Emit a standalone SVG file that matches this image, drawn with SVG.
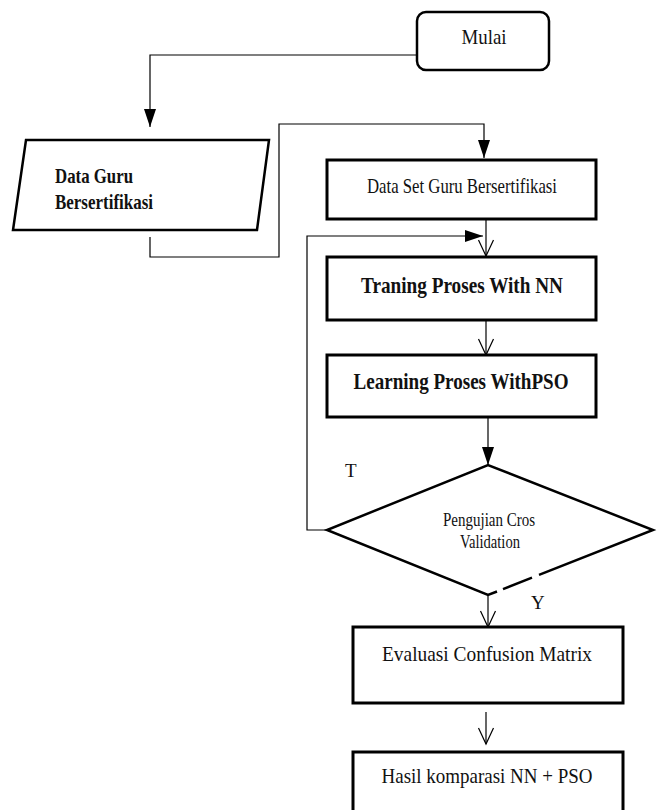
<svg xmlns="http://www.w3.org/2000/svg" width="657" height="810" viewBox="0 0 657 810">
<style>
.box{fill:#fff;stroke:#000;stroke-width:3}
.shape{fill:#fff;stroke:#000;stroke-width:2.5}
.conn{fill:none;stroke:#000;stroke-width:1.2}
.t{font-family:"Liberation Serif","Times New Roman",serif;fill:#111}
.b{font-weight:bold}
</style>
<defs>
<marker id="fill" markerUnits="userSpaceOnUse" markerWidth="20" markerHeight="14" refX="18" refY="6" orient="auto" overflow="visible">
<path d="M0,0 L18,6 L0,12 z" fill="#000"/>
</marker>
<marker id="open" markerUnits="userSpaceOnUse" markerWidth="18" markerHeight="16" refX="16" refY="7.5" orient="auto" overflow="visible">
<path d="M0,0 L16,7.5 L0,15" fill="none" stroke="#000" stroke-width="1.2"/>
</marker>
</defs>
<g id="connectors">
<path class="conn" d="M417,55 H150 V127" marker-end="url(#fill)"/>
<path class="conn" d="M150,237 V257 H279 V124 H484 V158" marker-end="url(#fill)"/>
<path class="conn" d="M486,219 V256" marker-end="url(#open)"/>
<path class="conn" d="M327,530 H307 V236 H483" marker-end="url(#fill)"/>
<path class="conn" d="M486,320 V355" marker-end="url(#open)"/>
<path class="conn" d="M488,417 V465" marker-end="url(#fill)"/>
<path class="conn" d="M488,595 V627" marker-end="url(#open)"/>
<path class="conn" d="M486,712 V744" marker-end="url(#open)"/>
</g>
<g id="mulai">
<rect class="shape" x="417" y="12" width="132" height="58" rx="9"/>
<text class="t" x="484" y="44" font-size="22" text-anchor="middle" textLength="45" lengthAdjust="spacingAndGlyphs">Mulai</text>
</g>
<g id="data-guru">
<polygon class="shape" points="26,140 269,140 257,230 13,230"/>
<text class="t b" x="55" y="183" font-size="21" textLength="78" lengthAdjust="spacingAndGlyphs">Data Guru</text>
<text class="t b" x="55" y="209" font-size="21" textLength="98" lengthAdjust="spacingAndGlyphs">Bersertifikasi</text>
</g>
<g id="data-set">
<rect class="box" x="327" y="160" width="269" height="59"/>
<text class="t" x="462" y="193" font-size="21" text-anchor="middle" textLength="190" lengthAdjust="spacingAndGlyphs">Data Set Guru Bersertifikasi</text>
</g>
<g id="training">
<rect class="box" x="327" y="257" width="269" height="63"/>
<text class="t b" x="462" y="293" font-size="23" text-anchor="middle" textLength="202" lengthAdjust="spacingAndGlyphs">Traning Proses With NN</text>
</g>
<g id="learning">
<rect class="box" x="327" y="355" width="269" height="62"/>
<text class="t b" x="461" y="389" font-size="23" text-anchor="middle" textLength="215" lengthAdjust="spacingAndGlyphs">Learning Proses WithPSO</text>
</g>
<g id="pengujian">
<polygon points="488,465 653,530 488,595 327,530" fill="#fff" stroke="none"/>
<path class="shape" fill="none" d="M497,591.5 L488,595 L327,530 L488,465 L653,530 L539,574.9 M532,577.7 L503,589.1"/>
<text class="t" x="489" y="526" font-size="18" text-anchor="middle" textLength="92" lengthAdjust="spacingAndGlyphs">Pengujian Cros</text>
<text class="t" x="490" y="548" font-size="18" text-anchor="middle" textLength="60" lengthAdjust="spacingAndGlyphs">Validation</text>
</g>
<g id="labels">
<text class="t" x="345" y="477" font-size="19">T</text>
<text class="t" x="531" y="609" font-size="19">Y</text>
</g>
<g id="evaluasi">
<rect class="box" x="353" y="627" width="270" height="76"/>
<text class="t" x="487" y="661" font-size="22" text-anchor="middle" textLength="210" lengthAdjust="spacingAndGlyphs">Evaluasi Confusion Matrix</text>
</g>
<g id="hasil">
<rect class="box" x="353" y="752" width="270" height="70"/>
<text class="t" x="487" y="783" font-size="22" text-anchor="middle" textLength="211" lengthAdjust="spacingAndGlyphs">Hasil komparasi NN + PSO</text>
</g>
</svg>
